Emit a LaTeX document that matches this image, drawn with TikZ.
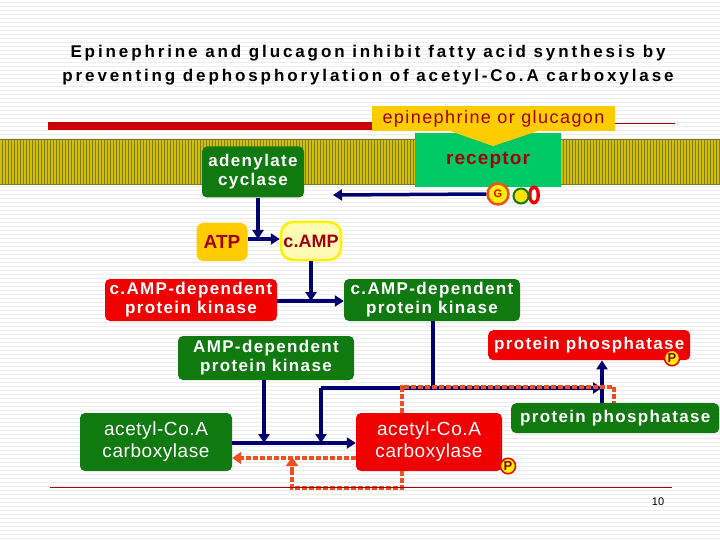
\documentclass[tikz,border=0pt]{standalone}
\usepackage{fontspec}
\setmainfont{Liberation Sans}
\usetikzlibrary{arrows.meta,shapes.geometric}
\definecolor{dgreen}{HTML}{107A10}
\definecolor{lgreen}{HTML}{00C864}
\definecolor{bred}{HTML}{F00000}
\definecolor{navy}{HTML}{000070}
\definecolor{ylw}{HTML}{FFCC00}
\definecolor{dred}{HTML}{A00010}
\definecolor{org}{HTML}{F05020}
\definecolor{olive}{HTML}{7A7A20}
\definecolor{membr}{HTML}{D4C000}
\newcommand{\ls}[1]{\addfontfeature{LetterSpace=#1}}
\tikzset{
 box/.style={rounded corners=5pt,inner sep=1pt,align=center,text=white,font=\fontsize{17}{19}\selectfont\bfseries\ls{8}},
 gbox/.style={box,fill=dgreen},
 rbox/.style={box,fill=bred},
 arr/.style={navy,line width=3.5pt,-{Triangle[length=9pt,width=11pt]}},
 ln/.style={navy,line width=3.5pt},
 dot/.style={org,line width=4pt,dash pattern=on 5pt off 2pt},
 darr/.style={dot,-{Triangle[length=9pt,width=12pt]}},
 pbub/.style={ellipse,fill=yellow,draw=bred,line width=1.5pt,inner sep=1pt,text=purple!70!black,font=\fontsize{13}{13}\selectfont\bfseries}
}
\begin{document}
\begin{tikzpicture}[x=1pt,y=-1pt]
\useasboundingbox (0,0) rectangle (720,540);
\fill[white] (0,0) rectangle (720,540);
\foreach \i in {2,6,...,538} \draw[black!7,line width=0.6pt] (0,\i)--(720,\i);
\node[font=\fontsize{17}{24}\selectfont\bfseries\ls{17},align=center] (title) at (368,65) {Epinephrine and glucagon inhibit fatty acid synthesis by\\preventing dephosphorylation of acetyl-Co.A carboxylase};
% membrane
\fill[olive] (0,139) rectangle (720,185);
\foreach \i in {1,4,...,720} \draw[membr,line width=1.2pt] (\i,140)--(\i,184);
% red bar
\fill[bred!85!black] (48,122) rectangle (372,130);
\draw[dred,line width=0.8pt] (612,123)--(675,123);
% receptor
\fill[lgreen] (415,133) rectangle (561,187);
\node[font=\fontsize{19}{19}\selectfont\bfseries\ls{6},text=dred] (rec) at (488,160) {receptor};
\fill[ylw] (450,131)--(538,131)--(493,146)--cycle;
\node[fill=ylw,minimum width=243pt,minimum height=25pt,inner sep=0pt,text=dred,font=\fontsize{18}{18}\selectfont\ls{8}] (epi) at (493.5,119) {epinephrine or glucagon};
% G protein
\node[ellipse,fill=bred,minimum width=12pt,minimum height=19pt,inner sep=0pt] (r1) at (534,195) {};
\node[ellipse,fill=white,minimum width=5pt,minimum height=12pt,inner sep=0pt] at (534,195) {};
\node[circle,fill=ylw!60!yellow,draw=dgreen,line width=2pt,minimum size=15pt,inner sep=0pt] (g2) at (521,196) {};
\node[circle,fill=yellow,draw=org,line width=2.5pt,minimum size=21pt,inner sep=0pt,text=bred,font=\fontsize{11}{11}\selectfont\bfseries] (G) at (498,194) {G};
% adenylate
\node[gbox,minimum width=102pt,minimum height=51pt] (ac) at (253,172) {adenylate\\cyclase};
\coordinate (acend) at (333,195);
\draw[arr] (G.west) -- (acend);
\node[rounded corners=7pt,fill=ylw,minimum width=51pt,minimum height=38pt,inner sep=0pt,text=dred,font=\fontsize{19}{19}\selectfont\bfseries] (atp) at (222,242) {ATP};
\node[rounded corners=12pt,fill=yellow!30,draw=yellow,line width=2.5pt,minimum width=60pt,minimum height=38pt,inner sep=0pt,text=dred,font=\fontsize{18}{18}\selectfont\bfseries] (camp) at (311,241) {c.AMP};
\coordinate (j1) at (258,239);
\draw[arr] (atp.east|-j1) -- (camp.west|-j1);
\draw[arr] (ac.south-|j1) -- (j1);
% kinases
\node[rbox,minimum width=172pt,minimum height=42pt] (rk) at (191,300) {c.AMP-dependent\\protein kinase};
\node[gbox,minimum width=176pt,minimum height=42pt] (gk) at (432,300) {c.AMP-dependent\\protein kinase};
\coordinate (j2) at (311,301);
\draw[arr] (rk.east|-j2) -- (gk.west|-j2);
\draw[arr] (camp.south-|j2) -- (j2);
\node[gbox,minimum width=176pt,minimum height=44pt] (amp) at (266,358) {AMP-dependent\\protein kinase};
\node[rbox,minimum width=202pt,minimum height=30pt,anchor=north west] (pp1) at (488,330) {protein phosphatase};
\node[pbub] (p1) at (672,358) {P};
\node[gbox,minimum width=208pt,minimum height=30pt,anchor=north west] (pp2) at (511,403) {protein phosphatase};
% acetyl-CoA
\node[box,fill=dgreen,font=\fontsize{19}{22}\selectfont\ls{3},minimum width=152pt,minimum height=58pt] (ac1) at (156,442) {acetyl-Co.A\\carboxylase};
\node[box,fill=bred,font=\fontsize{19}{22}\selectfont\ls{3},minimum width=146pt,minimum height=58pt] (ac2) at (429,442) {acetyl-Co.A\\carboxylase};
\node[pbub] (p2) at (508,466) {P};
% blue arrows
\coordinate (m1) at (264,443);
\coordinate (m2) at (321,443);
\coordinate (h1) at (321,388);
\coordinate (h2) at (602,388);
\draw[arr] (ac1.east|-m1) -- (ac2.west|-m1);
\draw[arr] (amp.south-|m1) -- (m1);
\draw[arr] (h1) -- (m2);
\draw[ln] (gk.south-|433,0) -- (433,388);
\draw[arr] (h1) -- (h2);
\draw[arr] (pp2.north-|h2) -- (pp1.south-|h2);
% orange dotted
\coordinate (d1) at (402,387);
\coordinate (d2) at (614,387);
\coordinate (d3) at (402,488);
\coordinate (d4) at (292,488);
\coordinate (d5) at (292,458);
\draw[darr] (ac2.west|-d5) -- (ac1.east|-d5);
\draw[dot] (ac2.north-|d1) -- (d1) -- (d2) -- (pp2.north-|d2);
\draw[dot] (ac2.south-|d3) -- (d3) -- (d4) -- (292,471);
\draw[darr] (292,472) -- (292,457);
% bottom line
\draw[dred,line width=0.8pt] (50,487) -- (672,487);
\node[font=\fontsize{11}{11}\selectfont] (pg) at (658,502) {10};
\end{tikzpicture}
\end{document}
